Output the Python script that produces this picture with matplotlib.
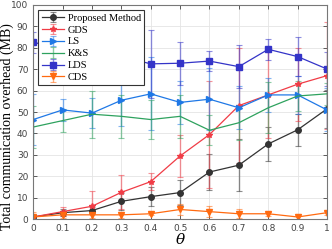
import matplotlib
matplotlib.use("Agg")
import matplotlib.pyplot as plt

plt.rcParams["mathtext.fontset"] = "dejavuserif"

theta = [0, 0.1, 0.2, 0.3, 0.4, 0.5, 0.6, 0.7, 0.8, 0.9, 1]

proposed = [1, 3, 4, 8.3, 10.5, 12.4, 22, 25.2, 35.1, 41.7, 51.5]
proposed_err = [0.8, 1.5, 1.5, 4.0, 4.3, 6, 8.4, 12, 8, 7.5, 9]

gds = [1, 3.5, 6, 12.5, 17.5, 29.5, 39.5, 53, 58, 63, 67]
gds_err = [0.8, 2, 7, 8, 4, 10, 25, 27, 20, 17, 25]

ls = [46.5, 51, 49.5, 55.5, 58.5, 54.5, 56, 52, 58, 58, 51]
ls_err = [12, 5, 7, 12, 17, 10, 14.6, 10, 8, 9, 10]

ks = [43, 46, 49, 48, 46.5, 48, 41.5, 45, 52, 57.5, 58.5]
ks_err = [10, 5.4, 11, 10, 9, 10, 7, 8, 12, 7, 5]

lds = [82.5, 80, 78, 76, 72.5, 72.8, 73.8, 71.2, 79.3, 75.9, 70.1]
lds_err = [5, 5, 5, 8, 16, 10, 4.5, 10, 5, 9, 8]

cds = [1, 2, 2, 2, 2.5, 4.5, 3.5, 2.5, 2.5, 1, 3]
cds_err = [2.5, 1.5, 1.5, 1.5, 0.8, 2.5, 2.5, 2, 1, 1.2, 1]

series = [
    ("Proposed Method", proposed, proposed_err, "#333333", "o"),
    ("GDS", gds, gds_err, "#f03c46", "*"),
    ("LS", ls, ls_err, "#1f78e6", ">"),
    ("K&S", ks, ks_err, "#2ea25e", None),
    ("LDS", lds, lds_err, "#3434c8", "s"),
    ("CDS", cds, cds_err, "#ff6a10", "v"),
]

fig = plt.figure(figsize=(3.32, 2.49), dpi=100)
ax = fig.add_axes([0.1, 0.12, 0.885, 0.86])

for name, y, err, color, marker in series:
    ax.errorbar(theta, y, yerr=err, color=color, marker=marker, markersize=4,
                linewidth=0.9, elinewidth=1.0, capsize=2.5, capthick=0.8,
                ecolor=matplotlib.colors.to_rgba(color, 0.55), label=name)

ax.set_xlim(0, 1)
ax.set_ylim(0, 100)
ax.set_xticks(theta)
ax.set_xticklabels(["0", "0.1", "0.2", "0.3", "0.4", "0.5", "0.6", "0.7", "0.8", "0.9", "1"])
ax.set_yticks(range(0, 101, 10))
ax.tick_params(direction="in", top=True, right=True, labelsize=6.5,
               colors="#444444", length=3, width=0.6)
ax.grid(True, color="#e4e4e4", linewidth=0.6)
ax.set_axisbelow(True)
for s in ax.spines.values():
    s.set_color("#777777")
    s.set_linewidth(0.8)

ax.set_xlabel(r"$\theta$", fontsize=11, labelpad=-1)
ax.set_ylabel("Total communication overhead (MB)", family="Liberation Serif",
              fontsize=10)
ax.yaxis.set_label_coords(-0.066, 0.43)
leg = ax.legend(loc="upper left", prop={"family": "Liberation Serif", "size": 7.5},
                fancybox=False, edgecolor="#333333", framealpha=1,
                borderpad=0.3, labelspacing=0.25, handlelength=2.2,
                handletextpad=0.3, borderaxespad=0.5)
leg.get_frame().set_linewidth(0.8)

fig.savefig("out.png", dpi=100)
